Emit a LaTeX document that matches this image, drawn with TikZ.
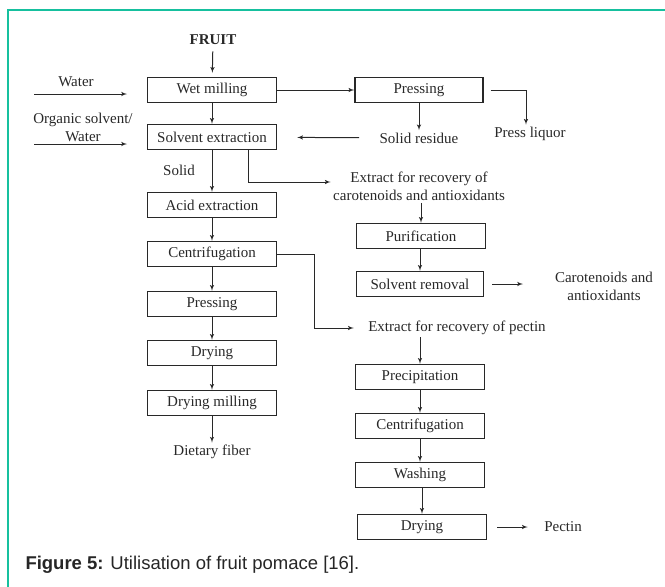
\documentclass[tikz,border=0pt]{standalone}
\usepackage{fontspec}
\setmainfont{Liberation Serif}
\newfontfamily\capfont{Liberation Sans}
\usepackage{tikz}
\usetikzlibrary{arrows,positioning,calc}
\definecolor{framecol}{RGB}{22,192,158}
\definecolor{inkcol}{RGB}{40,40,40}
\tikzset{stage/.style={draw=inkcol,line width=1.4pt,minimum width=129pt,minimum height=25pt,inner sep=0pt,align=center}}
\tikzset{note/.style={inner sep=2pt,align=center}}

\begin{document}
\begin{tikzpicture}[-, >=latex', line width=1pt, x=1pt, y=-1pt, font=\fontsize{15}{18}\selectfont, text=inkcol, draw=inkcol]
    \useasboundingbox (0,0) rectangle (665,587);
    \draw[framecol, line width=2pt] (8,587) -- (8,10) -- (665,10);

    \node[note,font=\fontsize{15}{18}\selectfont\bfseries] (fruit) at (213,40) {FRUIT};
    \node[stage] (wetmill) at (212,90) {Wet milling};
    \node[stage] (solvext) at (212,137) {Solvent extraction};
    \node[stage] (acidext) at (212,205) {Acid extraction};
    \node[stage] (centA) at (212,254) {Centrifugation};
    \node[stage] (pressB) at (212,304) {Pressing};
    \node[stage] (dryA) at (212,353) {Drying};
    \node[stage] (drymill) at (212,403) {Drying milling};
    \node[note] (fiber) at (212,452) {Dietary fiber};

    \node[note] (water) at (76,82) {Water};
    \node[note] (orgsolv) at (83,127) {Organic solvent/\\Water};
    \coordinate (waterL) at (34,94);
    \coordinate (waterR) at (127,94);
    \coordinate (orgL) at (34,144);
    \coordinate (orgR) at (127,144);
    \node[note] (solid) at (179,170) {Solid};

    \node[stage,minimum width=128pt] (pressA) at (419,90) {Pressing};
    \node[note] (solidres) at (419,138) {Solid residue};
    \node[note] (pressliq) at (530,134) {Press liquor};

    \node[note] (extcar) at (419,186) {Extract for recovery of\\carotenoids and antioxidants};
    \node[stage] (purif) at (421,236) {Purification};
    \node[stage,minimum width=127pt] (solvrem) at (420,284) {Solvent removal};
    \node[note] (carot) at (604,286) {Carotenoids and\\antioxidants};

    \node[note] (extpec) at (457,328) {Extract for recovery of pectin};
    \node[stage] (precip) at (420,377) {Precipitation};
    \node[stage] (centB) at (420,426) {Centrifugation};
    \node[stage] (wash) at (420,475) {Washing};
    \node[stage] (dryB) at (422,527) {Drying};
    \node[note] (pectin) at (563,527) {Pectin};

    \coordinate (bendA) at (248,182);
    \coordinate (bendB) at (314,328);

    \draw[->, shorten <=4pt, shorten >=4pt] (fruit) -- (wetmill);
    \draw[->] (waterL) -- (waterR);
    \draw[->] (orgL) -- (orgR);
    \draw[->] (wetmill) -- (solvext);
    \draw[->] (wetmill) -- (pressA);
    \draw[->] (pressA) -- (solidres);
    \draw[->, shorten <=18pt, shorten >=20pt] (solidres) -- (solvext);
    \draw[->] ([xshift=7pt]pressA.east) -| (pressliq.north -| 526,0);
    \draw[->] (solvext) -- (acidext);
    \draw[->] (solvext.south -| bendA) -- (bendA) -- (bendA -| extcar.west);
    \draw[->] (extcar.south -| purif.north) -- (purif.north);
    \draw[->] (purif.south -| solvrem.north) -- (solvrem.north);
    \draw[->, shorten <=8pt] (solvrem.east) -- (solvrem.east -| 523,0);
    \draw[->] (acidext) -- (centA);
    \draw[->, shorten >=12pt] (centA.east) -| (bendB) -- (extpec.west);
    \draw[->] (centA) -- (pressB);
    \draw[->] (pressB) -- (dryA);
    \draw[->] (dryA) -- (drymill);
    \draw[->] (drymill) -- (fiber);
    \draw[->] (extpec.south -| precip.north) -- (precip.north);
    \draw[->] (precip) -- (centB);
    \draw[->] (centB) -- (wash);
    \draw[->] (wash.south -| dryB.north) -- (dryB.north);
    \draw[->, shorten <=10pt, shorten >=14pt] (dryB) -- (pectin);

    \node[anchor=west, inner sep=0pt, font=\capfont\fontsize{18.5}{22}\selectfont, text=black!85] (caption) at (25,565) {\textbf{Figure 5:} Utilisation of fruit pomace [16].};
\end{tikzpicture}
\end{document}
